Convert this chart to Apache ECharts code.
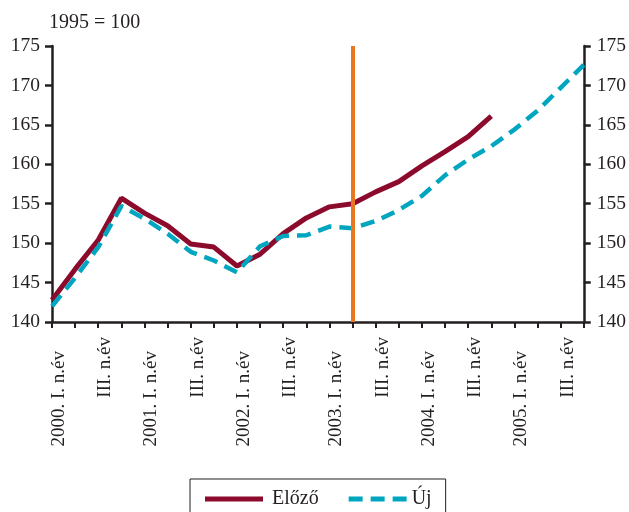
<!DOCTYPE html>
<html>
<head>
<meta charset="utf-8">
<script src="https://cdn.jsdelivr.net/npm/echarts@6/dist/echarts.min.js"></script>
<style>html,body{margin:0;padding:0;background:#fff}#c{width:629px;height:512px}</style>
</head>
<body>
<div id="c"></div>
<script>
var categories = [
  '2000. I. n.év','2000. II. n.év','2000. III. n.év','2000. IV. n.év',
  '2001. I. n.év','2001. II. n.év','2001. III. n.év','2001. IV. n.év',
  '2002. I. n.év','2002. II. n.év','2002. III. n.év','2002. IV. n.év',
  '2003. I. n.év','2003. II. n.év','2003. III. n.év','2003. IV. n.év',
  '2004. I. n.év','2004. II. n.év','2004. III. n.év','2004. IV. n.év',
  '2005. I. n.év','2005. II. n.év','2005. III. n.év','2005. IV. n.év'
];
var xTickLabels = [
  '2000. I. n.év','','III. n.év','',
  '2001. I. n.év','','III. n.év','',
  '2002. I. n.év','','III. n.év','',
  '2003. I. n.év','','III. n.év','',
  '2004. I. n.év','','III. n.év','',
  '2005. I. n.év','','III. n.év',''
];
var elozo = [142.8, 146.7, 150.4, 155.7, 153.8, 152.2, 149.9, 149.5, 147.1, 148.6, 151.2, 153.2,
             154.6, 155.0, 156.5, 157.8, 159.8, 161.6, 163.5, 166.1];
var uj = [142.0, 145.6, 149.5, 154.7, 153.1, 151.2, 148.9, 147.8, 146.3, 149.6, 150.9, 151.0,
          152.1, 151.9, 152.8, 154.2, 156.0, 158.6, 160.6, 162.3, 164.4, 166.8, 169.7, 172.6];
var yTicks = [140, 145, 150, 155, 160, 165, 170, 175];
var markerCategory = '2003. II. n.év';
var unitLabel = '1995 = 100';

var FONT = 'Liberation Serif';
var TXT = '#231f20';
var RED = '#8C0A2B';
var CYAN = '#00A6C0';
var chart = echarts.init(document.getElementById('c'), null, {renderer: 'canvas'});
var yAxisCommon = {
  type: 'value', min: yTicks[0], max: yTicks[yTicks.length - 1], interval: 5,
  axisLine: {show: true, lineStyle: {color: TXT, width: 2.5}},
  axisTick: {show: true, length: 7, lineStyle: {color: TXT, width: 2.5}},
  splitLine: {show: false},
  axisLabel: {color: TXT, fontFamily: FONT, fontSize: 19.5, margin: 12}
};
chart.setOption({
  animation: false,
  backgroundColor: '#fff',
  textStyle: {fontFamily: FONT},
  grid: {left: 52, right: 44, top: 46, bottom: 190, containLabel: false},
  graphic: [{
    type: 'text', left: 49, top: 13,
    style: {text: unitLabel, fontFamily: FONT, fontSize: 20, fill: TXT}
  }],
  legend: {
    data: [
      {name: 'Előző', icon: 'path://M0,0H58V5H0Z'},
      {name: 'Új', icon: 'path://M0,0H14V5H0Z M22,0H36V5H22Z M44,0H58V5H44Z',
       textStyle: {fontFamily: FONT, fontSize: 20, color: TXT, padding: [0, 0, 0, 0]}}
    ],
    left: 190, top: 479,
    padding: [10, 14, 10, 15],
    borderColor: TXT, borderWidth: 1,
    itemWidth: 58, itemHeight: 5, itemGap: 30,
    itemStyle: {borderWidth: 0},
    textStyle: {fontFamily: FONT, fontSize: 20, color: TXT, padding: [0, 0, 0, 4]}
  },
  xAxis: {
    type: 'category', data: categories, boundaryGap: false,
    axisLine: {show: true, onZero: false, lineStyle: {color: TXT, width: 2.5}},
    axisTick: {show: true, interval: 0, length: 6, lineStyle: {color: TXT, width: 2}},
    axisLabel: {
      interval: 0, rotate: 90, margin: 15, color: TXT, fontFamily: FONT, fontSize: 19,
      formatter: function (v, i) {
        var s = xTickLabels[i];
        if (!s) return '';
        return (s.indexOf('III') === 0 ? '{q|' : '{y|') + s + '}';
      },
      rich: {
        q: {fontFamily: FONT, fontSize: 19, color: TXT, padding: [14, 0, 0, 0]},
        y: {fontFamily: FONT, fontSize: 19, color: TXT, padding: [14, 14, 0, 0]}
      }
    }
  },
  yAxis: [
    Object.assign({}, yAxisCommon, {position: 'left'}),
    Object.assign({}, yAxisCommon, {position: 'right', axisLabel: Object.assign({}, yAxisCommon.axisLabel, {margin: 13})})
  ],
  series: [
    {
      name: 'Előző', type: 'line', data: elozo, symbol: 'none', z: 3,
      lineStyle: {color: RED, width: 5},
      itemStyle: {color: RED},
      markLine: {
        silent: true, symbol: 'none', label: {show: false},
        lineStyle: {color: '#E87722', width: 4, type: 'solid'},
        data: [{xAxis: markerCategory}]
      }
    },
    {
      name: 'Új', type: 'line', data: uj, symbol: 'none', z: 4,
      lineStyle: {color: CYAN, width: 4.5, type: [14, 8]},
      itemStyle: {color: CYAN}
    }
  ]
});
</script>
</body>
</html>
